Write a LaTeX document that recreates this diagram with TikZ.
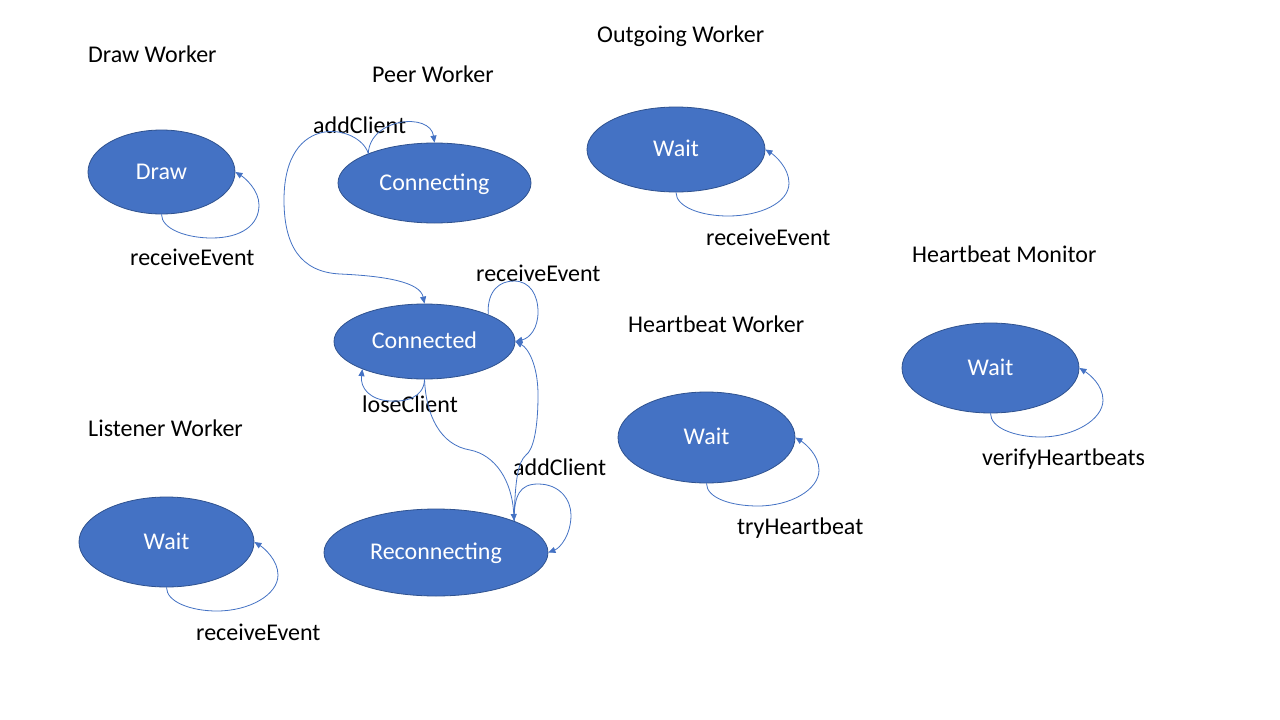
\documentclass[tikz,border=0pt]{standalone}
\usepackage{fontspec}
\setmainfont{Carlito}
\usetikzlibrary{arrows.meta,shapes.geometric}
\definecolor{stfill}{HTML}{4472C4}
\definecolor{stline}{HTML}{2F528F}
\definecolor{connc}{HTML}{4472C4}
\begin{document}
\begin{tikzpicture}[x=1pt,y=-1pt,
  state/.style={ellipse, draw=stline, line width=0.8pt, fill=stfill, text=white, inner sep=0pt, text height=20pt, text depth=6pt, font=\fontsize{24}{28}\selectfont},
  lbl/.style={anchor=base west, inner sep=0pt, font=\fontsize{24}{28}\selectfont},
  link/.style={draw=connc, line width=0.8pt, -{Triangle[length=7pt,width=6pt]}},
]
\useasboundingbox[fill=white] (0,0) rectangle (1280,720);

% states
\node[state, minimum width=147pt, minimum height=84pt] (draw) at (161.5,172) {Draw};
\node[state, minimum width=193pt, minimum height=80pt] (con) at (434.5,183) {Connecting};
\node[state, minimum width=178pt, minimum height=85pt] (ow) at (676,149.5) {Wait};
\node[state, minimum width=181pt, minimum height=75pt] (cd) at (424.5,341.5) {Connected};
\node[state, minimum width=177pt, minimum height=90pt] (hm) at (990.5,368) {Wait};
\node[state, minimum width=177pt, minimum height=91pt] (hw) at (706.5,437.5) {Wait};
\node[state, minimum width=175pt, minimum height=90pt] (lw) at (166.5,542) {Wait};
\node[state, minimum width=224pt, minimum height=87pt] (rc) at (436,552.5) {Reconnecting};

% titles
\node[lbl] (t1) at (88,62) {Draw Worker};
\node[lbl] (t2) at (372,82) {Peer Worker};
\node[lbl] (t3) at (597,42) {Outgoing Worker};
\node[lbl] (t4) at (912,262) {Heartbeat Monitor};
\node[lbl] (t5) at (628,332) {Heartbeat Worker};
\node[lbl] (t6) at (88,436) {Listener Worker};

% connector labels
\node[lbl] (l1) at (313,133) {addClient};
\node[lbl] (l2) at (130,265) {receiveEvent};
\node[lbl] (l3) at (706,245) {receiveEvent};
\node[lbl] (l4) at (476,281) {receiveEvent};
\node[lbl] (l5) at (362,412) {loseClient};
\node[lbl] (l6) at (513,475) {addClient};
\node[lbl] (l7) at (737,534) {tryHeartbeat};
\node[lbl] (l8) at (982,465) {verifyHeartbeats};
\node[lbl] (l9) at (196,640) {receiveEvent};

% self loops (south to east)
\draw[link] (draw.south) .. controls (161.5,229) and (186.5,238) .. (211.5,238) .. controls (241.5,238) and (259,225) .. (259,205) .. controls (259,190) and (245,178) .. (draw.east);
\draw[link] (ow.south) .. controls (676,207) and (701,216) .. (728,216) .. controls (760,216) and (789,203) .. (789,183) .. controls (789,168) and (775,155.5) .. (ow.east);
\draw[link] (hw.south) .. controls (706.5,498) and (731,506) .. (758,506) .. controls (790,506) and (819,490) .. (819,470) .. controls (819,455) and (805,443.5) .. (hw.east);
\draw[link] (hm.south) .. controls (990.5,428) and (1015,437) .. (1041,437) .. controls (1073,437) and (1103,420) .. (1103,400) .. controls (1103,385) and (1089,374) .. (hm.east);
\draw[link] (lw.south) .. controls (166.5,602) and (191,611) .. (217,611) .. controls (249,611) and (278,595) .. (278,575) .. controls (278,560) and (264,548) .. (lw.east);

% peer worker
\draw[link] (con.156) .. controls (370,118) and (430,112) .. (con.north);
\draw[link] (con.156) .. controls (360,125) and (284,110) .. (284,200) .. controls (284,245) and (300,272) .. (340,274) .. controls (385,276) and (420,282) .. (cd.north);
\draw[link] (cd.23) .. controls (487,290) and (500,281) .. (514,281) .. controls (530,281) and (538,295) .. (538,312) .. controls (538,328) and (530,338) .. (cd.east);
\draw[link] (cd.south) .. controls (424,398) and (405,402) .. (390,401) .. controls (370,400) and (360,388) .. (cd.204);
\draw[link] (cd.south) .. controls (426,415) and (440,445) .. (470,450) .. controls (495,455) and (512,480) .. (rc.22);
\draw[link] (rc.22) .. controls (515,480) and (518,462) .. (526,455) .. controls (533,450) and (538,430) .. (538,395) .. controls (538,365) and (528,348) .. (cd.east);
\draw[link] (rc.22) .. controls (514,495) and (520,484) .. (538,484) .. controls (560,484) and (571,500) .. (571,515) .. controls (571,535) and (560,548) .. (rc.east);
\end{tikzpicture}
\end{document}
